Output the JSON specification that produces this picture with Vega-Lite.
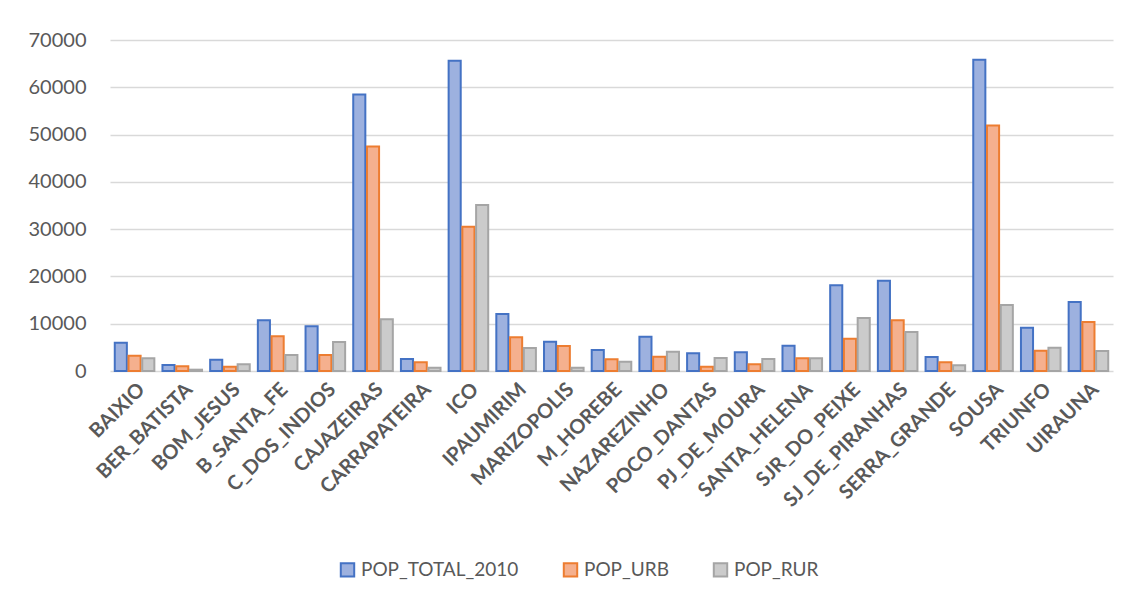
{
  "$schema": "https://vega.github.io/schema/vega-lite/v6.json",
  "width": 1003,
  "height": 331,
  "autosize": {"type": "none"},
  "padding": {"left": 110, "top": 40, "right": 22, "bottom": 230},
  "background": "white",
  "config": {
    "view": {"stroke": null},
    "font": "Lato"
  },
  "data": {
    "values": [
      {"mun": "BAIXIO", "s": "POP_TOTAL_2010", "v": 6000},
      {"mun": "BAIXIO", "s": "POP_URB", "v": 3250},
      {"mun": "BAIXIO", "s": "POP_RUR", "v": 2700},
      {"mun": "BER_BATISTA", "s": "POP_TOTAL_2010", "v": 1270},
      {"mun": "BER_BATISTA", "s": "POP_URB", "v": 990},
      {"mun": "BER_BATISTA", "s": "POP_RUR", "v": 280},
      {"mun": "BOM_JESUS", "s": "POP_TOTAL_2010", "v": 2390},
      {"mun": "BOM_JESUS", "s": "POP_URB", "v": 910},
      {"mun": "BOM_JESUS", "s": "POP_RUR", "v": 1410},
      {"mun": "B_SANTA_FE", "s": "POP_TOTAL_2010", "v": 10720},
      {"mun": "B_SANTA_FE", "s": "POP_URB", "v": 7340},
      {"mun": "B_SANTA_FE", "s": "POP_RUR", "v": 3380},
      {"mun": "C_DOS_INDIOS", "s": "POP_TOTAL_2010", "v": 9450},
      {"mun": "C_DOS_INDIOS", "s": "POP_URB", "v": 3380},
      {"mun": "C_DOS_INDIOS", "s": "POP_RUR", "v": 6130},
      {"mun": "CAJAZEIRAS", "s": "POP_TOTAL_2010", "v": 58450},
      {"mun": "CAJAZEIRAS", "s": "POP_URB", "v": 47500},
      {"mun": "CAJAZEIRAS", "s": "POP_RUR", "v": 10950},
      {"mun": "CARRAPATEIRA", "s": "POP_TOTAL_2010", "v": 2540},
      {"mun": "CARRAPATEIRA", "s": "POP_URB", "v": 1850},
      {"mun": "CARRAPATEIRA", "s": "POP_RUR", "v": 690},
      {"mun": "ICO", "s": "POP_TOTAL_2010", "v": 65600},
      {"mun": "ICO", "s": "POP_URB", "v": 30500},
      {"mun": "ICO", "s": "POP_RUR", "v": 35100},
      {"mun": "IPAUMIRIM", "s": "POP_TOTAL_2010", "v": 12050},
      {"mun": "IPAUMIRIM", "s": "POP_URB", "v": 7120},
      {"mun": "IPAUMIRIM", "s": "POP_RUR", "v": 4880},
      {"mun": "MARIZOPOLIS", "s": "POP_TOTAL_2010", "v": 6200},
      {"mun": "MARIZOPOLIS", "s": "POP_URB", "v": 5280},
      {"mun": "MARIZOPOLIS", "s": "POP_RUR", "v": 700},
      {"mun": "M_HOREBE", "s": "POP_TOTAL_2010", "v": 4440},
      {"mun": "M_HOREBE", "s": "POP_URB", "v": 2460},
      {"mun": "M_HOREBE", "s": "POP_RUR", "v": 1940},
      {"mun": "NAZAREZINHO", "s": "POP_TOTAL_2010", "v": 7260},
      {"mun": "NAZAREZINHO", "s": "POP_URB", "v": 3030},
      {"mun": "NAZAREZINHO", "s": "POP_RUR", "v": 4090},
      {"mun": "POCO_DANTAS", "s": "POP_TOTAL_2010", "v": 3730},
      {"mun": "POCO_DANTAS", "s": "POP_URB", "v": 910},
      {"mun": "POCO_DANTAS", "s": "POP_RUR", "v": 2750},
      {"mun": "PJ_DE_MOURA", "s": "POP_TOTAL_2010", "v": 3950},
      {"mun": "PJ_DE_MOURA", "s": "POP_URB", "v": 1410},
      {"mun": "PJ_DE_MOURA", "s": "POP_RUR", "v": 2540},
      {"mun": "SANTA_HELENA", "s": "POP_TOTAL_2010", "v": 5350},
      {"mun": "SANTA_HELENA", "s": "POP_URB", "v": 2680},
      {"mun": "SANTA_HELENA", "s": "POP_RUR", "v": 2680},
      {"mun": "SJR_DO_PEIXE", "s": "POP_TOTAL_2010", "v": 18120},
      {"mun": "SJR_DO_PEIXE", "s": "POP_URB", "v": 6800},
      {"mun": "SJR_DO_PEIXE", "s": "POP_RUR", "v": 11200},
      {"mun": "SJ_DE_PIRANHAS", "s": "POP_TOTAL_2010", "v": 19070},
      {"mun": "SJ_DE_PIRANHAS", "s": "POP_URB", "v": 10720},
      {"mun": "SJ_DE_PIRANHAS", "s": "POP_RUR", "v": 8250},
      {"mun": "SERRA_GRANDE", "s": "POP_TOTAL_2010", "v": 2960},
      {"mun": "SERRA_GRANDE", "s": "POP_URB", "v": 1830},
      {"mun": "SERRA_GRANDE", "s": "POP_RUR", "v": 1200},
      {"mun": "SOUSA", "s": "POP_TOTAL_2010", "v": 65800},
      {"mun": "SOUSA", "s": "POP_URB", "v": 51900},
      {"mun": "SOUSA", "s": "POP_RUR", "v": 13960},
      {"mun": "TRIUNFO", "s": "POP_TOTAL_2010", "v": 9160},
      {"mun": "TRIUNFO", "s": "POP_URB", "v": 4300},
      {"mun": "TRIUNFO", "s": "POP_RUR", "v": 4930},
      {"mun": "UIRAUNA", "s": "POP_TOTAL_2010", "v": 14600},
      {"mun": "UIRAUNA", "s": "POP_URB", "v": 10370},
      {"mun": "UIRAUNA", "s": "POP_RUR", "v": 4230}
    ]
  },
  "mark": {"type": "bar", "strokeWidth": 2},
  "encoding": {
    "x": {
      "field": "mun",
      "type": "nominal",
      "sort": null,
      "scale": {"paddingInner": 0.17, "paddingOuter": 0.1},
      "axis": {
        "title": null,
        "labelAngle": -45,
        "labelFontSize": 20,
        "labelFontWeight": "bold",
        "labelColor": "#595959",
        "ticks": false,
        "domain": false,
        "labelPadding": 8
      }
    },
    "xOffset": {
      "field": "s",
      "type": "nominal",
      "sort": ["POP_TOTAL_2010", "POP_URB", "POP_RUR"],
      "scale": {"paddingInner": 0.12}
    },
    "y": {
      "field": "v",
      "type": "quantitative",
      "scale": {"domain": [0, 70000], "nice": false},
      "axis": {
        "title": null,
        "values": [0, 10000, 20000, 30000, 40000, 50000, 60000, 70000],
        "format": "d",
        "labelFontSize": 20,
        "labelColor": "#595959",
        "labelPadding": 24,
        "ticks": false,
        "domain": false,
        "gridColor": "#d9d9d9",
        "gridWidth": 1.5
      }
    },
    "fill": {
      "field": "s",
      "type": "nominal",
      "sort": ["POP_TOTAL_2010", "POP_URB", "POP_RUR"],
      "scale": {
        "domain": ["POP_TOTAL_2010", "POP_URB", "POP_RUR"],
        "range": ["#9db1df", "#f5b08e", "#cbcbcb"]
      },
      "legend": {
        "title": null,
        "orient": "none",
        "direction": "horizontal",
        "legendX": 228,
        "legendY": 520,
        "labelFontSize": 19,
        "labelColor": "#595959",
        "symbolType": "square",
        "symbolSize": 180,
        "symbolStrokeWidth": 2,
        "columnPadding": 40,
        "labelOffset": 4
      }
    },
    "stroke": {
      "field": "s",
      "type": "nominal",
      "sort": ["POP_TOTAL_2010", "POP_URB", "POP_RUR"],
      "scale": {
        "domain": ["POP_TOTAL_2010", "POP_URB", "POP_RUR"],
        "range": ["#4472c4", "#ed7d31", "#a5a5a5"]
      },
      "legend": {
        "title": null,
        "orient": "none",
        "direction": "horizontal",
        "legendX": 228,
        "legendY": 520,
        "labelFontSize": 19,
        "labelColor": "#595959",
        "symbolType": "square",
        "symbolSize": 180,
        "symbolStrokeWidth": 2,
        "columnPadding": 40,
        "labelOffset": 4
      }
    }
  }
}
